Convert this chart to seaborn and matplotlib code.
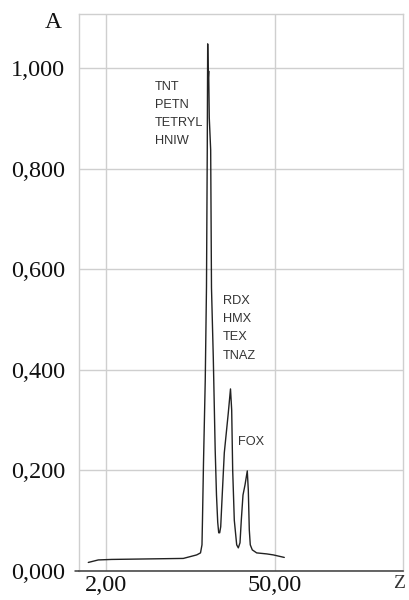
import numpy as np
import pandas as pd
import matplotlib
matplotlib.use("Agg")
import matplotlib.pyplot as plt
import seaborn as sns

# ---- data ----
z_values = [-3.03, -0.19, 3.62, 23.96, 27.77, 28.85, 29.27, 29.41, 29.70, 30.20,
            30.55, 30.77, 30.89, 31.03, 31.17, 31.34, 31.74, 31.97, 32.48, 33.02,
            33.39, 33.74, 34.02, 34.30, 34.59, 34.95, 35.61, 36.74, 37.37, 37.71,
            37.99, 38.45, 39.13, 39.59, 40.07, 40.44, 40.92, 41.49, 42.14, 42.43,
            42.71, 42.99, 43.56, 44.81, 47.65, 49.53, 52.65]
a_values = [0.017, 0.022, 0.023, 0.025, 0.032, 0.036, 0.052, 0.101, 0.215, 0.380,
            0.565, 0.837, 1.048, 0.976, 0.994, 0.901, 0.837, 0.563, 0.425, 0.241,
            0.151, 0.097, 0.076, 0.076, 0.088, 0.141, 0.235, 0.314, 0.362, 0.320,
            0.201, 0.101, 0.052, 0.046, 0.056, 0.101, 0.151, 0.171, 0.199, 0.161,
            0.082, 0.052, 0.042, 0.036, 0.034, 0.032, 0.027]

x_ticks = [2, 50]
x_tick_labels = ["2,00", "50,00"]
y_ticks = [0.0, 0.2, 0.4, 0.6, 0.8, 1.0]
y_tick_labels = ["0,000", "0,200", "0,400", "0,600", "0,800", "1,000"]

group1 = ["TNT", "PETN", "TETRYL", "HNIW"]
group2 = ["RDX", "HMX", "TEX", "TNAZ"]
group3 = ["FOX"]

df = pd.DataFrame({"z": z_values, "A": a_values})

sns.set_style("white")
W, H = 409, 600
fig = plt.figure(figsize=(W / 100, H / 100), dpi=100)
ax = fig.add_axes([79 / W, (H - 571) / H, (403 - 79) / W, (571 - 14) / H])

sns.lineplot(data=df, x="z", y="A", ax=ax, estimator=None, sort=False,
             color="#222222", linewidth=1.0)

ax.set_xlim(-5.67, 86.38)
ax.set_ylim(0, 1.1074)
ax.set_xticks(x_ticks)
ax.set_xticklabels(x_tick_labels)
ax.set_yticks(y_ticks)
ax.set_yticklabels(y_tick_labels)
ax.set_xlabel("")
ax.set_ylabel("")

serif = ["Liberation Serif", "DejaVu Serif"]
for lab in ax.get_xticklabels() + ax.get_yticklabels():
    lab.set_fontfamily(serif)
    lab.set_fontsize(17.5)
    lab.set_color("#111111")

ax.grid(True, color="#cfcfcf", linewidth=1.0)
ax.set_axisbelow(True)
ax.tick_params(axis="x", length=0, pad=3)
ax.tick_params(axis="y", length=4, color="#cfcfcf", width=1.0, pad=6)

for s in ["top", "right", "left"]:
    ax.spines[s].set_color("#cfcfcf")
    ax.spines[s].set_linewidth(1.0)
ax.spines["bottom"].set_color("#3a3a3a")
ax.spines["bottom"].set_linewidth(1.1)
ax.plot([-0.013, 0], [0, 0], transform=ax.transAxes, clip_on=False,
        color="#3a3a3a", linewidth=1.1)

# axis labels
fig.text(53 / W, 1 - 22 / H, "A", family=serif, fontsize=17, ha="center", va="center", color="#111111")
fig.text(399 / W, 1 - 583 / H, "Z", family=serif, fontsize=14, ha="center", va="center", color="#333333")

def px_to_data(px, py):
    return 2 + (px - 106) / 3.52, (571 - py) / 503

sans = ["Liberation Sans", "DejaVu Sans"]
def put_group(names, px, py0, step):
    for i, n in enumerate(names):
        x, y = px_to_data(px, py0 + i * step)
        ax.text(x, y, n, family=sans, fontsize=9.2, color="#333333", ha="left", va="center")

put_group(group1, 155, 87, 18)
put_group(group2, 223, 301, 18.2)
put_group(group3, 238, 442, 18)

fig.savefig("out.png", dpi=100)
